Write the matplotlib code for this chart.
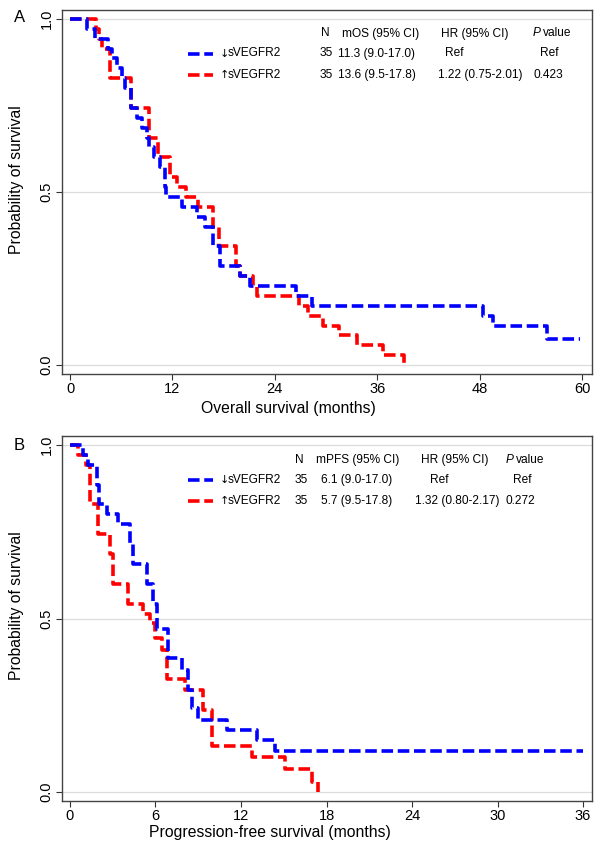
import matplotlib
matplotlib.use("Agg")
import matplotlib.pyplot as plt
from matplotlib.lines import Line2D

plt.rcParams['font.family'] = ['Liberation Sans', 'DejaVu Sans']

# ---------------- data ----------------
# Panel A: overall survival
A_low_t = [0, 1.95, 2.93, 4.5, 4.9, 5.5, 6.05, 6.45, 7.2, 7.8, 8.4, 9.0, 9.2, 9.8, 10.55, 11.1, 11.3,
           13.1, 14.85, 15.8, 16.8, 17.6, 19.9, 21.1, 26.5, 28.4, 48.4, 49.6, 55.9, 59.8]
A_low_s = [1.0, 0.971, 0.943, 0.914, 0.886, 0.857, 0.829, 0.8, 0.743, 0.714, 0.686, 0.657, 0.629, 0.6,
           0.571, 0.514, 0.486, 0.457, 0.429, 0.4, 0.343, 0.286, 0.257, 0.229, 0.2, 0.171, 0.143, 0.114,
           0.076, 0.076]
A_high_t = [0, 3.05, 3.4, 3.8, 4.7, 7.1, 9.3, 10.3, 11.7, 12.5, 13.6, 15.0, 16.8, 17.5, 19.5, 19.9,
            21.5, 21.9, 26.8, 27.9, 29.7, 31.5, 33.6, 36.7, 39.1]
A_high_s = [1.0, 0.971, 0.943, 0.914, 0.829, 0.743, 0.657, 0.6, 0.543, 0.514, 0.486, 0.457, 0.4, 0.343,
            0.286, 0.257, 0.229, 0.2, 0.171, 0.143, 0.114, 0.086, 0.057, 0.029, 0.0]

# Panel B: progression-free survival
B_low_t = [0, 0.89, 1.29, 1.87, 2.06, 2.57, 3.39, 4.2, 4.4, 5.43, 5.85, 6.1, 6.9, 7.84, 8.3, 8.54, 9.0,
           11.0, 13.1, 14.4, 36.0]
B_low_s = [1.0, 0.971, 0.943, 0.886, 0.829, 0.8, 0.771, 0.714, 0.657, 0.6, 0.543, 0.471, 0.386, 0.352,
           0.294, 0.241, 0.207, 0.178, 0.149, 0.118, 0.118]
B_high_t = [0, 0.58, 1.12, 1.4, 2.0, 2.8, 3.04, 4.1, 5.15, 5.6, 5.96, 6.43, 6.78, 8.07, 9.36, 9.94,
            12.75, 15.1, 16.96, 17.4]
B_high_s = [1.0, 0.971, 0.943, 0.829, 0.743, 0.686, 0.6, 0.543, 0.514, 0.486, 0.443, 0.409, 0.325,
            0.294, 0.236, 0.133, 0.102, 0.065, 0.03, 0.0]

group_arrows = ['\u2193', '\u2191']
group_name = 'sVEGFR2'
A_xticks = [0, 12, 24, 36, 48, 60]
B_xticks = [0, 6, 12, 18, 24, 30, 36]
yticks = [0.0, 0.5, 1.0]
ytick_labels = ['0.0', '0.5', '1.0']

A_table = {
    'N': ['N', '35', '35'],
    'med': ['mOS (95% CI)', '11.3 (9.0-17.0)', '13.6 (9.5-17.8)'],
    'hr': ['HR (95% CI)', 'Ref', '1.22 (0.75-2.01)'],
    'p': ['value', 'Ref', '0.423'],
}
B_table = {
    'N': ['N', '35', '35'],
    'med': ['mPFS (95% CI)', '6.1 (9.0-17.0)', '5.7 (9.5-17.8)'],
    'hr': ['HR (95% CI)', 'Ref', '1.32 (0.80-2.17)'],
    'p': ['value', 'Ref', '0.272'],
}

BLUE = '#0000ff'
RED = '#ff0000'
W, H = 600, 851

fig = plt.figure(figsize=(6.0, 8.51), dpi=100)


def fx(x):
    return x / W


def fy(y):
    return 1 - y / H


def panel(rect, xlim, xticks, xlabel, xlab_pos, low_t, low_s, high_t, high_s):
    ax = fig.add_axes(rect)
    for y in yticks:
        ax.axhline(y, color='#dcdcdc', lw=0.9, zorder=0)
    kw = dict(where='post', lw=2.6, dashes=(3.2, 1.3), dash_capstyle='butt', solid_joinstyle='miter')
    ax.step(low_t, low_s, color=BLUE, zorder=3, **kw)
    ax.step(high_t, high_s, color=RED, zorder=2, **kw)
    ax.set_xlim(*xlim)
    ax.set_ylim(-0.026, 1.026)
    ax.set_xticks(xticks)
    ax.set_yticks(yticks)
    ax.set_yticklabels(ytick_labels, rotation=90, va='center')
    ax.tick_params(axis='both', labelsize=10.5, length=4, width=0.8, color='#333333', pad=2)
    ax.set_xlabel(xlabel, fontsize=11.3, va='center')
    ax.xaxis.set_label_coords(*xlab_pos)
    ax.set_ylabel('Probability of survival', fontsize=11.3)
    ax.yaxis.set_label_coords(-0.072, 0.535)
    for sp in ax.spines.values():
        sp.set_color('#444444')
        sp.set_linewidth(1.0)
    return ax


axA = panel([fx(62), fy(374), fx(592) - fx(62), fy(10) - fy(374)], (-0.94, 61.17), A_xticks,
            'Overall survival (months)', ((288 - 62) / 530, -(408 - 374) / 364),
            A_low_t, A_low_s, A_high_t, A_high_s)
axB = panel([fx(62), fy(801), fx(592) - fx(62), fy(436) - fy(801)], (-0.56, 36.63), B_xticks,
            'Progression-free survival (months)', ((270 - 62) / 530, -(832 - 801) / 365),
            B_low_t, B_low_s, B_high_t, B_high_s)

fig.text(fx(14), fy(18), 'A', fontsize=12, va='center', ha='left')
fig.text(fx(14), fy(445), 'B', fontsize=12, va='center', ha='left')


def legend_table(rows_y, cols, table):
    fs = 8.6
    for i, col in enumerate([BLUE, RED]):
        y = rows_y[i + 1]
        fig.add_artist(Line2D([fx(188), fx(213)], [fy(y), fy(y)], color=col, lw=2.6,
                              dashes=(3.2, 1.3), dash_capstyle='butt'))
        fig.text(fx(220), fy(y), group_arrows[i], fontsize=fs - 0.6, va='center', ha='left',
                 family=['DejaVu Sans'])
        fig.text(fx(228), fy(y), group_name, fontsize=fs, va='center', ha='left')
    for key in ['N', 'med', 'hr', 'p']:
        xs = cols[key]
        for r in range(3):
            txt = table[key][r]
            if key == 'p' and r == 0:
                fig.text(fx(xs[0]), fy(rows_y[0]), 'P', fontsize=fs, style='italic',
                         va='center', ha='left')
                fig.text(fx(xs[0] + 10), fy(rows_y[0]), txt, fontsize=fs, va='center', ha='left')
            else:
                fig.text(fx(xs[r]), fy(rows_y[r]), txt, fontsize=fs, va='center', ha='left')


legend_table([33.5, 53.5, 75],
             {'N': [321, 320, 320], 'med': [342, 338, 338], 'hr': [441, 445, 438],
              'p': [533, 540, 533]}, A_table)
legend_table([460, 480, 501],
             {'N': [295, 295, 295], 'med': [316, 321, 321], 'hr': [421, 430, 415],
              'p': [506, 513, 506]}, B_table)

fig.savefig('out.png', dpi=100)
